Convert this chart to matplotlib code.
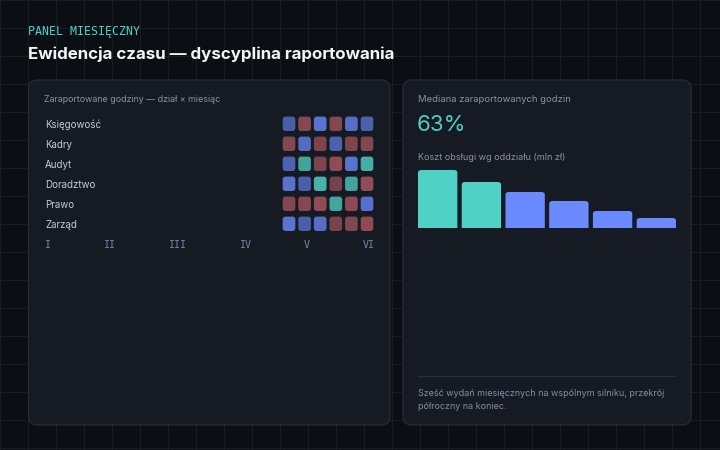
import matplotlib
matplotlib.use("Agg")
import matplotlib.pyplot as plt
from matplotlib.patches import FancyBboxPatch

# --- data ---
departments = ["Księgowość", "Kadry", "Audyt", "Doradztwo", "Prawo", "Zarząd"]
months = ["I", "II", "III", "IV", "V", "VI"]
hours_pct = [
    [74, 58, 87, 57, 84, 76],
    [57, 82, 54, 76, 55, 56],
    [77, 93, 54, 63, 86, 96],
    [86, 75, 97, 50, 93, 64],
    [57, 58, 63, 93, 61, 85],
    [87, 75, 83, 52, 56, 62],
]
median_label = "63%"
branch_cost = [5.8, 4.6, 3.6, 2.7, 1.7, 1.0]
branch_highlight = [True, True, False, False, False, False]

BG = "#0b0e13"
GRID = "#181c23"
PANEL = "#161a22"
EDGE = "#272c37"
TEAL = "#4fd1c5"
BLUE = "#6b8aff"
RED = "#c0606a"
FONT = ["Inter", "DejaVu Sans"]
MONO = ["DejaVu Sans Mono"]

# colour bands: (low, high, colour, alpha at low, alpha at high)
bands = [(40, 70, RED, 0.45, 0.80), (70, 90, BLUE, 0.55, 0.85), (90, 100, TEAL, 0.70, 0.90)]


def cell_style(v):
    for lo, hi, col, a0, a1 in bands:
        if v < hi or hi == 100:
            t = min(max((v - lo) / (hi - lo), 0), 1)
            return col, a0 + (a1 - a0) * t
    return TEAL, 0.9


W, H = 720, 450
fig = plt.figure(figsize=(7.2, 4.5), dpi=100)
fig.patch.set_facecolor(BG)

# full-size canvas in pixel units
bg = fig.add_axes([0, 0, 1, 1])
bg.set_xlim(0, W)
bg.set_ylim(H, 0)
bg.axis("off")
bg.set_facecolor(BG)
for x in range(0, W + 1, 28):
    bg.axvline(x, color=GRID, lw=0.8, zorder=0)
for y in range(0, H + 1, 28):
    bg.axhline(y, color=GRID, lw=0.8, zorder=0)

for x0, x1 in [(28.5, 390), (403, 691)]:
    bg.add_patch(FancyBboxPatch((x0, 80), x1 - x0, 345, boxstyle="round,pad=0,rounding_size=9",
                                fc=PANEL, ec=EDGE, lw=0.9, zorder=1))

bg.text(28, 31, "PANEL MIESIĘCZNY", color=TEAL, fontsize=8.4, family=MONO, va="center", zorder=3)
bg.text(28, 59, "Ewidencja czasu — dyscyplina raportowania", color="#f2f4f7", fontsize=12.2,
        fontweight="bold", family=FONT, va="baseline", zorder=3)

# left panel
bg.text(44, 100, "Zaraportowane godziny — dział × miesiąc", color="#8a93a2", fontsize=6.4,
        family=FONT, va="center", zorder=3)
row_y = [125, 145, 165, 185, 205, 224.5]
for name, y in zip(departments, row_y):
    bg.text(45, y, name, color="#c4ccd7", fontsize=7.0, family=FONT, va="center", zorder=3)
month_x = [47, 109.5, 177, 245.5, 307, 368.5]
for m, x in zip(months, month_x):
    bg.text(x, 245.5, m, color="#7387a8", fontsize=7.2, family=MONO, ha="center", va="center", zorder=3)

hm = fig.add_axes([281.2 / W, 1 - 233.8 / H, 93.6 / W, 120 / H])
hm.set_xlim(-0.5, len(months) - 0.5)
hm.set_ylim(len(departments) - 0.5, -0.5)
hm.axis("off")
cw, ch = 0.81, 0.72
for r, row in enumerate(hours_pct):
    for c, v in enumerate(row):
        col, a = cell_style(v)
        hm.add_patch(FancyBboxPatch((c - cw / 2, r - ch / 2), cw, ch,
                                    boxstyle="round,pad=0,rounding_size=0.18", mutation_aspect=0.78,
                                    fc=col, alpha=a, ec="none"))

# right panel
bg.text(418, 100, "Mediana zaraportowanych godzin", color="#8a93a2", fontsize=6.8,
        family=FONT, va="center", zorder=3)
bg.text(417, 125, median_label, color=TEAL, fontsize=16, family=FONT, va="center", zorder=3)
bg.text(418, 158, "Koszt obsługi wg oddziału (mln zł)", color="#8a93a2", fontsize=6.5,
        family=FONT, va="center", zorder=3)
bg.plot([418, 676], [375.7, 375.7], color=EDGE, lw=0.9, zorder=3)
bg.text(418, 400, "Sześć wydań miesięcznych na wspólnym silniku, przekrój\npółroczny na koniec.",
        color="#7f90ab", fontsize=6.45, family=FONT, va="center", linespacing=1.6, zorder=3)

bx = fig.add_axes([418 / W, 1 - 228 / H, 258 / W, 58 / H])
bx.set_facecolor("none")
bx.axis("off")
bx.set_xlim(-0.45, len(branch_cost) - 0.55)
bx.set_ylim(0, max(branch_cost))
bars = bx.bar(range(len(branch_cost)), branch_cost, width=0.9)
for b, hi in zip(bars, branch_highlight):
    x, w, h = b.get_x(), b.get_width(), b.get_height()
    b.remove()
    bx.add_patch(FancyBboxPatch((x, -0.5), w, h + 0.5, boxstyle="round,pad=0,rounding_size=0.08",
                                mutation_aspect=3.3, fc=TEAL if hi else BLUE, ec="none"))

fig.savefig("out.png", dpi=100, facecolor=BG)
